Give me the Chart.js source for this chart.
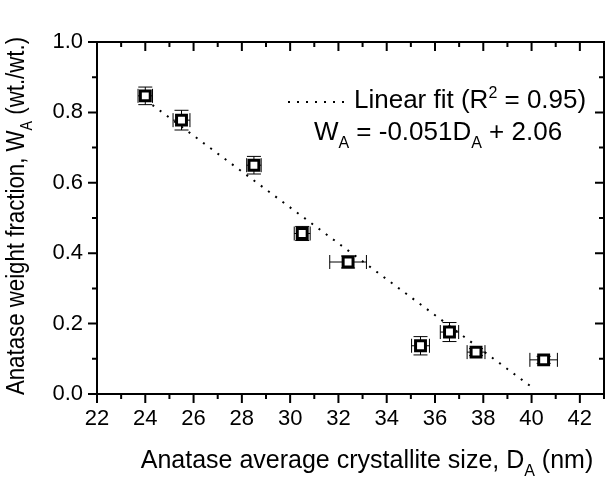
<!DOCTYPE html>
<html>
<head>
<meta charset="utf-8">
<script src="https://cdn.jsdelivr.net/npm/chart.js@4.4.1/dist/chart.umd.min.js"></script>
<style>
  html, body { margin: 0; padding: 0; background: #fff; }
  #wrap { width: 614px; height: 478px; }
</style>
</head>
<body>
<div id="wrap"><canvas id="chart"></canvas></div>
<script>
// crystallite size (nm) vs anatase weight fraction
const sizeNm     = [24.0, 25.5, 28.5, 30.5, 32.4, 35.4, 36.6, 37.7, 40.5];
const weightFrac = [0.847, 0.778, 0.650, 0.456, 0.375, 0.137, 0.176, 0.119, 0.097];
const sizeErr    = [0.30, 0.35, 0.30, 0.33, 0.76, 0.37, 0.38, 0.37, 0.57];
const weightErr  = [0.025, 0.028, 0.025, 0.020, 0.017, 0.026, 0.027, 0.010, 0.010];

// linear fit end points  (W = -0.051 D + 2.06)
const fitX = [24.0, 40.0];
const fitY = [0.836, 0.020];

const xMajor = [22, 24, 26, 28, 30, 32, 34, 36, 38, 40, 42];
const yMajor = [0.0, 0.2, 0.4, 0.6, 0.8, 1.0];

const FONT = '"Liberation Sans", Arial, Helvetica, sans-serif';

// text with sub / superscripts: parts = [[text, 'sub'|'sup'|undefined], ...]
function richWidth(ctx, parts, size) {
    let w = 0;
    parts.forEach(p => {
        ctx.font = (p[1] ? Math.round(size * 0.62) : size) + 'px ' + FONT;
        w += ctx.measureText(p[0]).width;
    });
    return w;
}
function drawRich(ctx, parts, x, y, size, align) {
    let w = richWidth(ctx, parts, size);
    let cx = align === 'center' ? x - w / 2 : x;
    ctx.textBaseline = 'alphabetic';
    ctx.textAlign = 'left';
    parts.forEach(p => {
        let dy = 0;
        if (p[1] === 'sub') dy = size * 0.3;
        if (p[1] === 'sup') dy = -size * 0.38;
        ctx.font = (p[1] ? Math.round(size * 0.62) : size) + 'px ' + FONT;
        ctx.fillText(p[0], cx, y + dy);
        cx += ctx.measureText(p[0]).width;
    });
}

const errorBars = {
    id: 'errorBars',
    beforeDatasetsDraw(chart) {
        const ctx = chart.ctx, xs = chart.scales.x, ys = chart.scales.y;
        const cap = 7;
        ctx.save();
        ctx.strokeStyle = '#000';
        ctx.lineWidth = 1;
        sizeNm.forEach((d, i) => {
            const px = xs.getPixelForValue(d), py = ys.getPixelForValue(weightFrac[i]);
            const x1 = xs.getPixelForValue(d - sizeErr[i]), x2 = xs.getPixelForValue(d + sizeErr[i]);
            const y1 = ys.getPixelForValue(weightFrac[i] - weightErr[i]), y2 = ys.getPixelForValue(weightFrac[i] + weightErr[i]);
            ctx.beginPath();
            ctx.moveTo(x1, py); ctx.lineTo(x2, py);
            ctx.moveTo(x1, py - cap); ctx.lineTo(x1, py + cap);
            ctx.moveTo(x2, py - cap); ctx.lineTo(x2, py + cap);
            ctx.moveTo(px, y1); ctx.lineTo(px, y2);
            ctx.moveTo(px - cap, y1); ctx.lineTo(px + cap, y1);
            ctx.moveTo(px - cap, y2); ctx.lineTo(px + cap, y2);
            ctx.stroke();
        });
        ctx.restore();
    }
};

const frameAndText = {
    id: 'frameAndText',
    afterDraw(chart) {
        const ctx = chart.ctx, a = chart.chartArea, xs = chart.scales.x, ys = chart.scales.y;
        ctx.save();
        ctx.strokeStyle = '#000';
        ctx.fillStyle = '#000';
        ctx.lineWidth = 2;
        ctx.strokeRect(a.left, a.top, a.right - a.left, a.bottom - a.top);

        // ticks: major 9px, minor 5px; bottom/left outward, top/right mirrored inward
        ctx.beginPath();
        for (let v = 22; v <= 43; v++) {
            const px = xs.getPixelForValue(v);
            const len = v % 2 === 0 ? 9 : 5;
            ctx.moveTo(px, a.bottom); ctx.lineTo(px, a.bottom + len);
            ctx.moveTo(px, a.top); ctx.lineTo(px, a.top + len);
        }
        for (let k = 0; k <= 10; k++) {
            const py = ys.getPixelForValue(k / 10);
            const len = k % 2 === 0 ? 9 : 5;
            ctx.moveTo(a.left, py); ctx.lineTo(a.left - len, py);
            ctx.moveTo(a.right, py); ctx.lineTo(a.right - len, py);
        }
        ctx.stroke();

        // axis titles
        drawRich(ctx, [['Anatase average crystallite size, D'], ['A', 'sub'], [' (nm)']], 367, 468, 25, 'center');
        ctx.save();
        ctx.translate(24, 216);
        ctx.rotate(-Math.PI / 2);
        ctx.scale(0.89, 1);
        drawRich(ctx, [['Anatase weight fraction, W'], ['A', 'sub'], [' (wt./wt.)']], 0, 0, 25, 'center');
        ctx.restore();

        // legend + equation
        ctx.lineWidth = 2;
        ctx.setLineDash([2, 7]);
        ctx.beginPath();
        ctx.moveTo(288, 102); ctx.lineTo(344, 102);
        ctx.stroke();
        ctx.setLineDash([]);
        drawRich(ctx, [['Linear fit (R'], ['2', 'sup'], [' = 0.95)']], 354, 108, 26, 'left');
        drawRich(ctx, [['W'], ['A', 'sub'], [' = -0.051D'], ['A', 'sub'], [' + 2.06']], 438, 140, 26, 'center');
        ctx.restore();
    }
};

new Chart(document.getElementById('chart'), {
    type: 'scatter',
    data: {
        datasets: [
            {
                label: 'Data',
                data: sizeNm.map((d, i) => ({ x: d, y: weightFrac[i] })),
                pointStyle: 'rect',
                pointRadius: 7,
                pointHoverRadius: 7,
                pointBorderWidth: 3,
                pointBackgroundColor: '#fff',
                pointBorderColor: '#000',
                order: 0
            },
            {
                label: 'Linear fit',
                data: fitX.map((d, i) => ({ x: d, y: fitY[i] })),
                showLine: true,
                borderColor: '#000',
                borderWidth: 2,
                borderDash: [2, 7],
                pointRadius: 0,
                order: 1
            }
        ]
    },
    options: {
        responsive: true,
        maintainAspectRatio: false,
        animation: false,
        events: [],
        layout: { padding: { top: 42, right: 6, left: 0, bottom: 0 } },
        plugins: { legend: { display: false }, tooltip: { enabled: false } },
        scales: {
            x: {
                type: 'linear',
                min: 22, max: 43,
                afterFit: s => { s.height = 84; },
                grid: { drawOnChartArea: false, tickLength: 9, tickColor: 'rgba(0,0,0,0)' },
                border: { display: false },
                ticks: {
                    stepSize: 1, autoSkip: false, maxRotation: 0, padding: 3,
                    color: '#000', font: { family: FONT, size: 22 },
                    callback: v => xMajor.includes(v) ? String(v) : ''
                }
            },
            y: {
                type: 'linear',
                min: 0, max: 1,
                afterFit: s => { s.width = 97; },
                grid: { drawOnChartArea: false, tickLength: 9, tickColor: 'rgba(0,0,0,0)' },
                border: { display: false },
                ticks: {
                    stepSize: 0.1, autoSkip: false, padding: 5,
                    color: '#000', font: { family: FONT, size: 22 },
                    callback: v => yMajor.some(t => Math.abs(t - v) < 1e-6) ? v.toFixed(1) : ''
                }
            }
        }
    },
    plugins: [errorBars, frameAndText]
});
</script>
</body>
</html>
